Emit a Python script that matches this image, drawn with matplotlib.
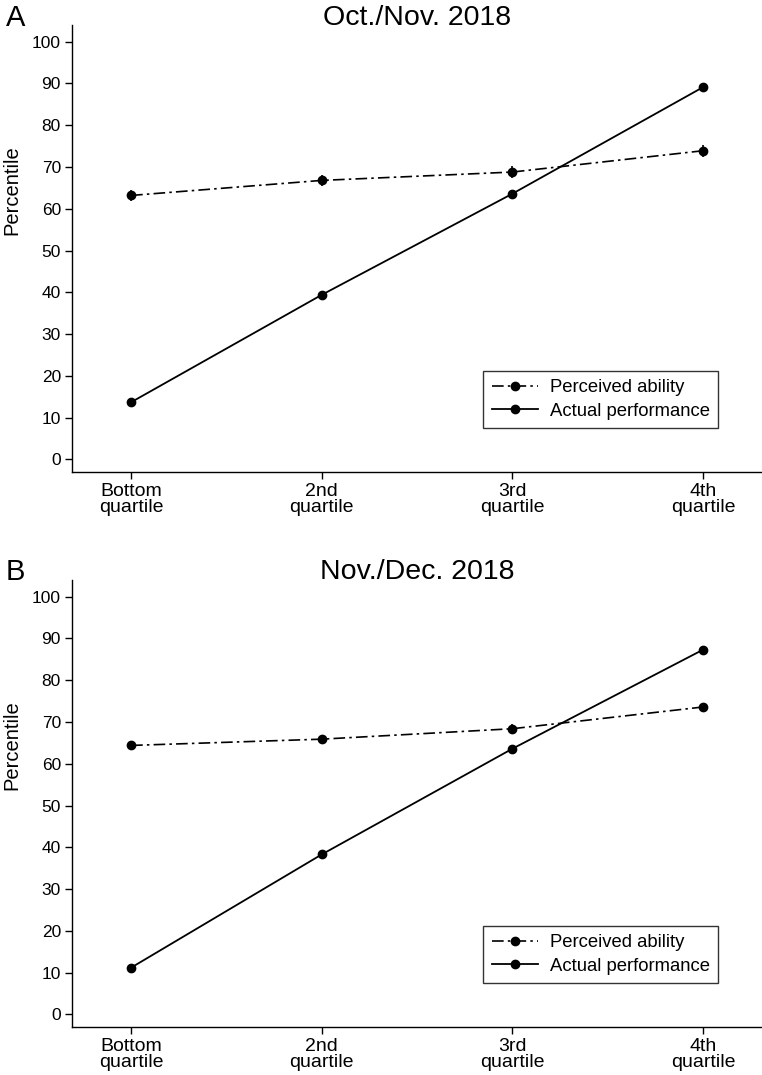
import numpy as np
import matplotlib
matplotlib.use("Agg")
import matplotlib.pyplot as plt
from matplotlib.lines import Line2D

plt.rcParams['font.family'] = ['Liberation Sans', 'DejaVu Sans']

quartiles = ["Bottom\nquartile", "2nd\nquartile", "3rd\nquartile", "4th\nquartile"]
titles = ["Oct./Nov. 2018", "Nov./Dec. 2018"]
panel_labels = ["A", "B"]

# perceived ability (mean, half-width of CI) and actual performance
perceived_a = [63.2, 66.8, 68.8, 73.9]
perceived_err_a = [1.4, 1.4, 1.4, 1.4]
actual_a = [13.7, 39.4, 63.6, 89.1]

perceived_b = [64.4, 65.9, 68.4, 73.6]
perceived_err_b = [1.1, 0.9, 1.2, 1.0]
actual_b = [11.2, 38.3, 63.6, 87.3]

datos = [
    (perceived_a, perceived_err_a, actual_a),
    (perceived_b, perceived_err_b, actual_b),
]

dashdot = (0, (7, 2.5, 1.5, 2.5))

fig = plt.figure(figsize=(7.62, 10.75), dpi=100)
# (top, bottom) of each panel in pixels
limites = [(25, 472), (580, 1027)]

x = np.arange(1, 5)
for i, (perc, err, act) in enumerate(datos):
    top, bottom = limites[i]
    ax = fig.add_axes([72/762, 1 - bottom/1075, 1 - 72/762, (bottom - top)/1075])
    ax.errorbar(x, perc, yerr=err, fmt='o', color='black', ms=6,
                elinewidth=1.2, capsize=0, linestyle=dashdot, lw=1.2)
    ax.plot(x, act, '-o', color='black', ms=6, lw=1.3)

    ax.set_xlim(0.69, 4.31)
    ax.set_ylim(-3, 104)
    ax.set_yticks(np.arange(0, 101, 10))
    ax.set_xticks(x)
    ax.set_xticklabels(quartiles, fontsize=14, linespacing=0.92)
    ax.tick_params(axis='y', labelsize=12.5, length=5, width=1, pad=3)
    ax.tick_params(axis='x', length=5, width=1, pad=3)
    for s in ['top', 'right']:
        ax.spines[s].set_visible(False)
    ax.spines['left'].set_linewidth(1)
    ax.spines['bottom'].set_linewidth(1)
    ax.set_ylabel("Percentile", fontsize=14.5)
    ax.yaxis.set_label_coords(-0.074, 0.63)

    handles = [
        Line2D([], [], color='black', lw=1.2, linestyle=dashdot, marker='o', ms=6),
        Line2D([], [], color='black', lw=1.3, linestyle='-', marker='o', ms=6),
    ]
    ley = ax.legend(handles, ["Perceived ability", "Actual performance"],
                    loc='lower right', bbox_to_anchor=(646/690, 44/447), fontsize=13.3,
                    frameon=True, fancybox=False, edgecolor='black',
                    handlelength=2.5, handletextpad=0.65, borderpad=0.45,
                    labelspacing=0.35, borderaxespad=0)
    ley.get_frame().set_linewidth(1)

    fig.text(417/762, 1 - (18 + i*554)/1075, titles[i], fontsize=20.5,
             va='center', ha='center')
    fig.text(6/762, 1 - (18 + i*554)/1075, panel_labels[i], fontsize=21,
             va='center', ha='left')

fig.savefig("out.png", dpi=100)
